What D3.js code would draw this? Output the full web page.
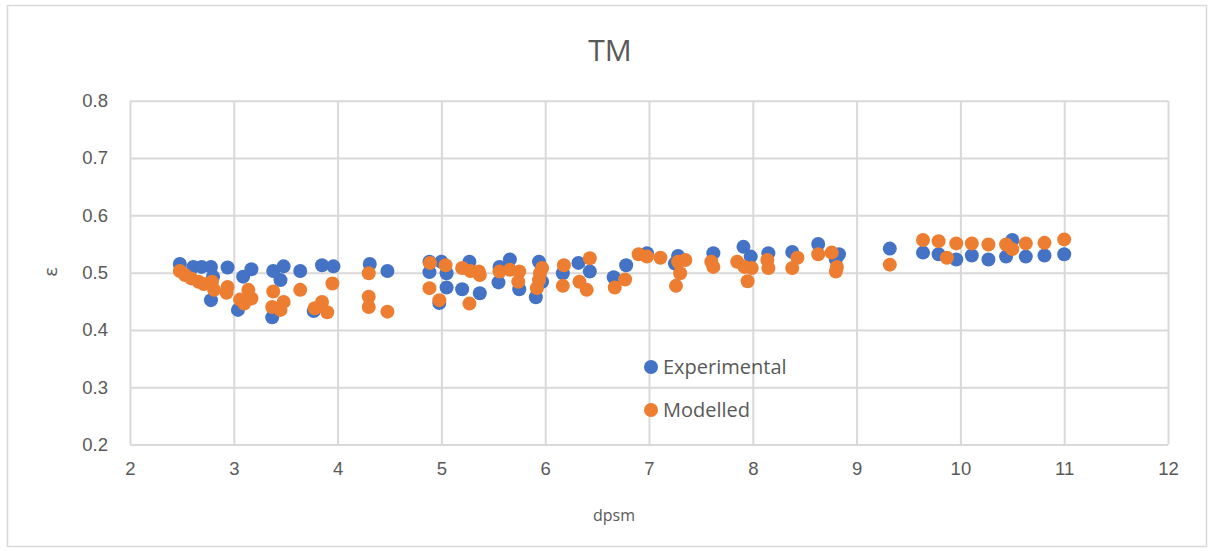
<!DOCTYPE html>
<html>
<head>
<meta charset="utf-8">
<script src="https://cdn.jsdelivr.net/npm/d3@7"></script>
<style>
  html, body { margin: 0; padding: 0; background: #fff; }
  svg { display: block; font-family: "Open Sans", "Noto Sans", sans-serif; }
</style>
</head>
<body>
<svg id="chart" width="1210" height="551"></svg>
<script>
const title = "TM";
const xLabel = "dpsm";
const yLabel = "ε";
const seriesNames = ["Experimental", "Modelled"];
const seriesColors = ["#4472C4", "#ED7D31"];
const xTicks = [2, 3, 4, 5, 6, 7, 8, 9, 10, 11, 12];
const yTicks = [0.2, 0.3, 0.4, 0.5, 0.6, 0.7, 0.8];

const experimental = [
  [2.48,0.515],[2.61,0.510],[2.69,0.510],[2.78,0.510],[2.94,0.509],[3.09,0.493],[3.17,0.506],
  [3.38,0.503],[3.48,0.511],[3.64,0.503],[3.85,0.513],[3.96,0.511],[4.31,0.515],[4.48,0.503],
  [2.80,0.493],[2.78,0.452],[3.04,0.435],[3.37,0.422],[3.45,0.487],[3.77,0.433],
  [4.885,0.519],[4.885,0.501],[5.00,0.519],[5.05,0.499],[5.05,0.474],[4.98,0.447],[5.27,0.519],
  [5.20,0.471],[5.37,0.464],[5.56,0.510],[5.66,0.523],[5.55,0.483],[5.75,0.471],[5.94,0.519],
  [5.97,0.484],[5.91,0.457],[6.17,0.499],[6.32,0.517],[6.43,0.502],[6.66,0.492],[6.78,0.513],
  [6.98,0.534],[7.28,0.529],[7.25,0.516],[7.62,0.534],[7.91,0.545],[7.98,0.528],[8.15,0.534],
  [8.38,0.536],[8.63,0.550],[8.83,0.532],[8.80,0.523],
  [9.32,0.542],[9.64,0.535],[9.79,0.532],[9.96,0.523],[10.11,0.530],[10.27,0.523],[10.50,0.557],
  [10.44,0.528],[10.63,0.528],[10.81,0.530],[11.00,0.532]
];

const modelled = [
  [2.48,0.503],[2.53,0.496],[2.59,0.490],[2.66,0.484],[2.71,0.480],[2.79,0.484],[2.81,0.470],
  [2.93,0.465],[2.94,0.475],[3.06,0.453],[3.14,0.470],[3.17,0.455],[3.10,0.446],[3.38,0.467],
  [3.37,0.440],[3.45,0.435],[3.48,0.449],[3.64,0.470],[3.78,0.438],[3.85,0.449],[3.90,0.431],
  [3.95,0.481],[4.30,0.499],[4.30,0.458],[4.30,0.440],[4.48,0.432],
  [4.89,0.517],[4.885,0.473],[4.98,0.452],[5.04,0.513],[5.20,0.508],[5.28,0.503],[5.36,0.502],
  [5.37,0.496],[5.27,0.446],[5.56,0.502],[5.66,0.505],[5.75,0.502],[5.74,0.484],[5.97,0.508],
  [5.95,0.499],[5.94,0.487],[5.92,0.473],[6.18,0.513],[6.17,0.477],[6.43,0.525],[6.33,0.484],
  [6.40,0.470],[6.67,0.474],[6.77,0.488],
  [6.90,0.532],[6.98,0.528],[7.11,0.526],[7.28,0.519],[7.35,0.522],[7.30,0.499],[7.26,0.477],
  [7.60,0.519],[7.62,0.510],[7.85,0.519],[7.92,0.510],[7.99,0.508],[7.95,0.485],[8.14,0.522],
  [8.15,0.508],[8.43,0.526],[8.38,0.508],[8.63,0.532],[8.76,0.535],[8.81,0.510],[8.80,0.502],
  [9.32,0.514],[9.64,0.557],[9.79,0.555],[9.87,0.526],[9.96,0.551],[10.11,0.551],[10.27,0.549],
  [10.44,0.549],[10.50,0.541],[10.63,0.551],[10.81,0.552],[11.00,0.558]
];

const seriesData = [experimental, modelled];

const svg = d3.select("#chart");
const plot = { left: 130, right: 1168, top: 100.7, bottom: 444.6 };
const textColor = "#595959";
const gridColor = "#d9d9d9";

// outer border
svg.append("rect")
  .attr("x", 7.5).attr("y", 5.5).attr("width", 1199).attr("height", 541)
  .attr("fill", "#fff").attr("stroke", gridColor).attr("stroke-width", 1.5);

const x = d3.scaleLinear().domain([2, 12]).range([plot.left, plot.right]);
const y = d3.scaleLinear().domain([0.2, 0.8]).range([plot.bottom, plot.top]);

// grid + axes
const gx = svg.append("g").attr("transform", `translate(0,${plot.bottom})`)
  .call(d3.axisBottom(x).tickValues(xTicks).tickSize(-(plot.bottom - plot.top)).tickFormat(d3.format("d")).tickPadding(17));
gx.select(".domain").remove();
gx.selectAll(".tick line").attr("stroke", gridColor).attr("stroke-width", 2);
gx.selectAll(".tick text").attr("fill", textColor).attr("font-size", 18.5);

const gy = svg.append("g").attr("transform", `translate(${plot.left},0)`)
  .call(d3.axisLeft(y).tickValues(yTicks).tickSize(-(plot.right - plot.left)).tickFormat(d3.format(".1f")).tickPadding(22));
gy.select(".domain").remove();
gy.selectAll(".tick line").attr("stroke", gridColor).attr("stroke-width", 2);
gy.selectAll(".tick text").attr("fill", textColor).attr("font-size", 18.5);

// title
svg.append("text").attr("x", 610).attr("y", 61).attr("text-anchor", "middle")
  .attr("fill", textColor).attr("font-size", 30).text(title);

// axis titles
svg.append("text").attr("x", 614).attr("y", 521).attr("text-anchor", "middle")
  .attr("fill", textColor).attr("font-size", 16).text(xLabel);
svg.append("text").attr("transform", "translate(57,272) rotate(-90)").attr("text-anchor", "middle")
  .attr("fill", textColor).attr("font-size", 19).text(yLabel);

// points
seriesData.forEach((data, i) => {
  svg.append("g").selectAll("circle").data(data).join("circle")
    .attr("cx", d => x(d[0])).attr("cy", d => y(d[1]))
    .attr("r", 7).attr("fill", seriesColors[i]);
});

// legend
const legendY = [367, 410];
seriesNames.forEach((name, i) => {
  svg.append("circle").attr("cx", 651).attr("cy", legendY[i]).attr("r", 7).attr("fill", seriesColors[i]);
  svg.append("text").attr("x", 663).attr("y", legendY[i]).attr("dy", "0.36em")
    .attr("fill", textColor).attr("font-size", 20).text(name);
});
</script>
</body>
</html>
